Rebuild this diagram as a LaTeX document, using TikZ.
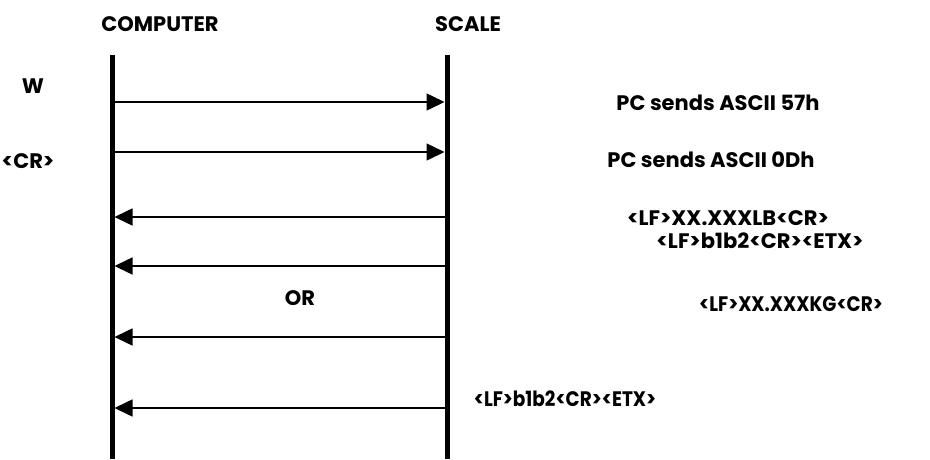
\documentclass[tikz,border=0pt]{standalone}
\usepackage{fontspec}
\setmainfont{Poppins}
\usetikzlibrary{arrows.meta}
\begin{document}
\begin{tikzpicture}[x=1pt, y=-1pt,
    lbl/.style={font=\fontsize{21}{23}\selectfont\bfseries, inner sep=0pt,
      text height=0.7em, text depth=0pt, yshift=-4pt},
    narrow/.style={lbl, xscale=0.88, transform shape},
    life/.style={line width=5pt},
    msg/.style={line width=1.5pt, -{Triangle[length=18pt, width=17pt]}}]
    \useasboundingbox (0,0) rectangle (930,459);

    % lifelines
    \coordinate (pctop) at (112,55);
    \coordinate (pcbot) at (112,459);
    \coordinate (sctop) at (447,55);
    \coordinate (scbot) at (447,459);
    \draw[life] (pctop) -- (pcbot);
    \draw[life] (sctop) -- (scbot);

    \foreach \y/\n in {102/1, 152/2, 217/3, 266/4, 337/5, 408/6}
      {
        \coordinate (pc\n) at (114.5,\y);
        \coordinate (sc\n) at (444.5,\y);
      }

    \draw[msg] (pc1) -- (sc1);
    \draw[msg] (pc2) -- (sc2);
    \draw[msg] (sc3) -- (pc3);
    \draw[msg] (sc4) -- (pc4);
    \draw[msg] (sc5) -- (pc5);
    \draw[msg] (sc6) -- (pc6);

    \node[lbl] (computer) at (160,24) {COMPUTER};
    \node[lbl] (scale) at (468,24) {SCALE};
    \node[lbl] (w) at (33,86) {W};
    \node[lbl] (cr) at (28,161) {<CR>};
    \node[lbl] (or) at (300,298) {OR};
    \node[lbl] (send1) at (718,103) {PC sends ASCII 57h};
    \node[lbl] (send2) at (711,160) {PC sends ASCII 0Dh};
    \node[lbl] (lb) at (728,218) {<LF>XX.XXXLB<CR>};
    \node[lbl] (etx1) at (760,241) {<LF>b1b2<CR><ETX>};
    \node[narrow] (kg) at (791,304) {<LF>XX.XXXKG<CR>};
    \node[narrow] (etx2) at (565,399) {<LF>b1b2<CR><ETX>};
  \end{tikzpicture}
\end{document}
